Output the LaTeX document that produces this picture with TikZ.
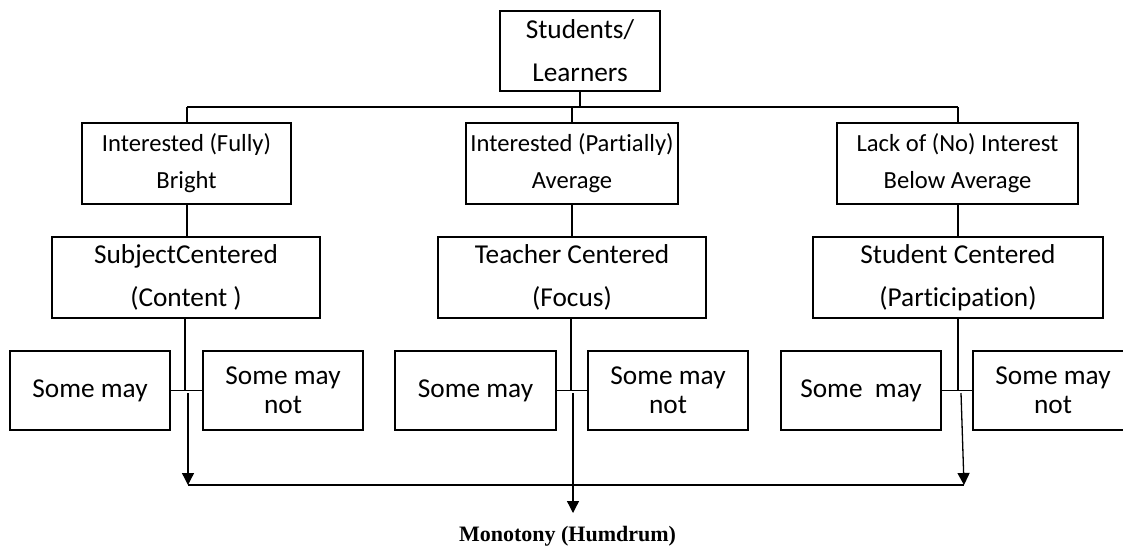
\documentclass[tikz,border=0pt]{standalone}
\usepackage{fontspec}
\setmainfont{Carlito}[Ligatures=NoCommon]
\newfontfamily\timesfont{Liberation Serif}
\usetikzlibrary{arrows.meta}
\begin{document}
\begin{tikzpicture}[x=1pt,y=-1pt,
  box/.style={draw=black,line width=1.7pt,inner sep=0pt,align=center,anchor=center},
  bigtext/.style={font=\fontsize{27.3}{43}\selectfont},
  midtext/.style={font=\fontsize{24.6}{37}\selectfont},
  smalltext/.style={font=\fontsize{27.3}{29}\selectfont},
  link/.style={line width=1.7pt},
  arr/.style={line width=1.3pt,-{Triangle[length=12pt,width=12pt]}},
  baseline/.style={line width=1.3pt}]
\useasboundingbox (0,0) rectangle (1123,547);
\clip (0,0) rectangle (1123,547);
% top
\node[box,bigtext,minimum width=160pt,minimum height=80pt] (top) at (580,51) {Students/\\Learners};
% level 2
\node[box,midtext,minimum width=209pt,minimum height=81pt] (la) at (186.5,163.5) {Interested (Fully)\\Bright};
\node[box,midtext,minimum width=212pt,minimum height=81pt] (lb) at (572,163.5) {Interested (Partially)\\Average};
\node[box,midtext,minimum width=241pt,minimum height=81pt] (lc) at (957.5,163.5) {Lack of (No) Interest\\Below Average};
% level 3
\node[box,bigtext,minimum width=268pt,minimum height=81pt] (ma) at (186,277.5) {SubjectCentered\\(Content )};
\node[box,bigtext,minimum width=268pt,minimum height=81pt] (mb) at (572,277.5) {Teacher Centered\\(Focus)};
\node[box,bigtext,minimum width=290pt,minimum height=81pt] (mc) at (958,277.5) {Student Centered\\(Participation)};
% level 4
\node[box,smalltext,minimum width=160pt,minimum height=79pt] (a1) at (90,390.5) {Some may};
\node[box,smalltext,minimum width=160pt,minimum height=79pt] (a2) at (283,390.5) {Some may\\not};
\node[box,smalltext,minimum width=161pt,minimum height=79pt] (b1) at (475.5,390.5) {Some may};
\node[box,smalltext,minimum width=160pt,minimum height=79pt] (b2) at (668,390.5) {Some may\\not};
\node[box,smalltext,minimum width=160pt,minimum height=79pt] (c1) at (861,390.5) {Some\ \ may};
\node[box,smalltext,minimum width=160pt,minimum height=79pt] (c2) at (1053,390.5) {Some may\\not};
% result label
\node[font=\timesfont\bfseries\fontsize{22}{26}\selectfont] (res) at (567.5,536) {Monotony (Humdrum)};
% coordinates
\coordinate (tj) at (580,107);
\coordinate (hl) at (187,107);
\coordinate (hm) at (572,107);
\coordinate (hr) at (958,107);
\coordinate (ja) at (185,390);
\coordinate (jb) at (571,390);
\coordinate (jc) at (958,390);
\coordinate (sa) at (188,393);
\coordinate (sb) at (573,393);
\coordinate (sc) at (961,393);
\coordinate (ea) at (188,485);
\coordinate (eb) at (573,513);
\coordinate (ec) at (964,485);
% connectors top
\draw[link] (top.south) -- (tj);
\draw[link] (hl) -- (hr);
\draw[link] (hl) -- (hl |- la.north);
\draw[link] (hm) -- (hm |- lb.north);
\draw[link] (hr) -- (hr |- lc.north);
\draw[link] (la.south -| hl) -- (ma.north -| hl);
\draw[link] (lb.south -| hm) -- (mb.north -| hm);
\draw[link] (lc.south -| hr) -- (mc.north -| hr);
% connectors to level 4
\draw[link] (ma.south -| ja) -- (ja);
\draw[link] (a1.east) -- (a2.west);
\draw[link] (mb.south -| jb) -- (jb);
\draw[link] (b1.east) -- (b2.west);
\draw[link] (mc.south -| jc) -- (jc);
\draw[link] (c1.east) -- (c2.west);
% arrows
\draw[arr] (sa) -- (ea);
\draw[arr] (sb) -- (eb);
\draw[arr] (sc) -- (ec);
\draw[baseline] (ea) -- (ec);
\end{tikzpicture}
\end{document}
